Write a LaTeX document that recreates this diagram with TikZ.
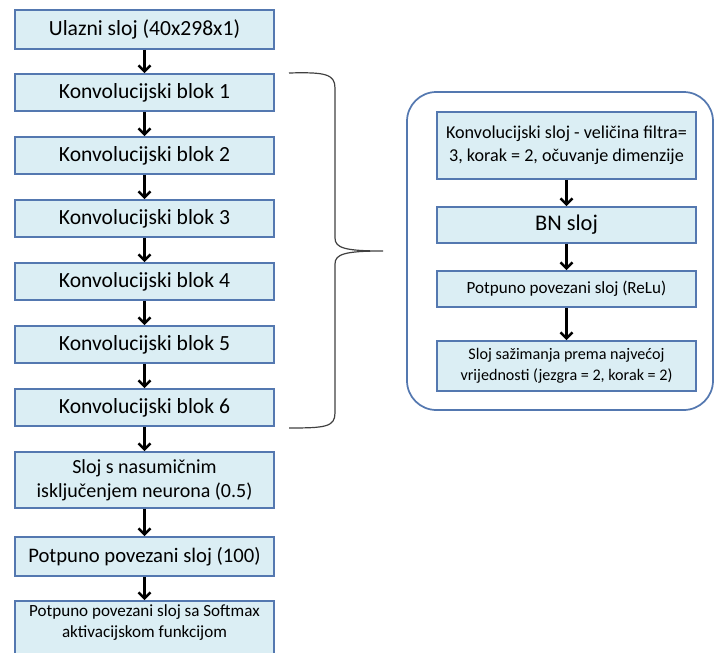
\documentclass[tikz,border=0pt]{standalone}
\usepackage{fontspec}
\setmainfont{Carlito}
\usetikzlibrary{arrows.meta}
\definecolor{boxfill}{RGB}{219,238,244}
\definecolor{boxline}{RGB}{84,120,176}
\begin{document}
\begin{tikzpicture}[x=0.75pt,y=-0.75pt,
  blk/.style={draw=boxline,fill=boxfill,line width=1.3pt,minimum width=194.25pt,inner sep=0pt,align=center},
  arr/.style={draw=black,line width=1.9pt,-{Straight Barb[length=4.5pt,width=9pt,line width=1.9pt]}},
  brace/.style={draw=black!75,line width=0.9pt}]
\useasboundingbox (0,0) rectangle (715,653);
\begin{scope}
\clip (0,0) rectangle (715,653);
% left column
\node[blk,minimum height=29.25pt,font=\fontsize{16.2}{19}\selectfont] (in) at (144.5,29.5) {Ulazni sloj (40x298x1)};
\node[blk,minimum height=27.75pt,font=\fontsize{16.2}{19}\selectfont] (k1) at (144.5,92.5) {Konvolucijski blok 1};
\node[blk,minimum height=27.75pt,font=\fontsize{16.2}{19}\selectfont] (k2) at (144.5,155.5) {Konvolucijski blok 2};
\node[blk,minimum height=27.75pt,font=\fontsize{16.2}{19}\selectfont] (k3) at (144.5,218.5) {Konvolucijski blok 3};
\node[blk,minimum height=27.75pt,font=\fontsize{16.2}{19}\selectfont] (k4) at (144.5,281.5) {Konvolucijski blok 4};
\node[blk,minimum height=27.75pt,font=\fontsize{16.2}{19}\selectfont] (k5) at (144.5,344.5) {Konvolucijski blok 5};
\node[blk,minimum height=27.75pt,font=\fontsize{16.2}{19}\selectfont] (k6) at (144.5,407.5) {Konvolucijski blok 6};
\node[blk,minimum height=42pt,font=\fontsize{15}{18}\selectfont] (dr) at (144.5,480) {Sloj s nasumičnim\\ isključenjem neurona (0.5)};
\node[blk,minimum height=29.25pt,font=\fontsize{15.5}{18}\selectfont] (fc) at (144.5,556.5) {Potpuno povezani sloj (100)};
\node[blk,minimum height=59.25pt] (sm) at (144.5,640.5) {};
\node[anchor=north,align=center,inner sep=0pt,font=\fontsize{12.8}{16}\selectfont] (smt) at (144.5,604) {Potpuno povezani sloj sa Softmax\\ aktivacijskom funkcijom};
\draw[arr] (in) -- (k1);
\draw[arr] (k1) -- (k2);
\draw[arr] (k2) -- (k3);
\draw[arr] (k3) -- (k4);
\draw[arr] (k4) -- (k5);
\draw[arr] (k5) -- (k6);
\draw[arr] (k6) -- (dr);
\draw[arr] (dr) -- (fc);
\draw[arr] (fc) -- (sm);
% brace
\coordinate (bt) at (289,73);
\coordinate (bb) at (289,428);
\coordinate (tip) at (383,251);
\draw[brace] (bt) .. controls (325,72) and (335,74) .. (335,88) -- (335,238)
  .. controls (335,248) and (345,251) .. (tip)
  .. controls (345,251) and (335,254) .. (335,264) -- (335,413)
  .. controls (335,427) and (325,428) .. (bb);
% right block
\node[draw=boxline,line width=1.3pt,rounded corners=22pt,minimum width=229.5pt,minimum height=238.5pt,inner sep=0pt] (grp) at (560,251) {};
\node[blk,minimum height=50.25pt,font=\fontsize{13.6}{17}\selectfont] (ca) at (566.5,145.5) {Konvolucijski sloj - veličina filtra=\\ 3, korak = 2, očuvanje dimenzije};
\node[blk,minimum height=27pt,font=\fontsize{16.8}{19}\selectfont] (cb) at (566.5,225) {BN sloj};
\node[blk,minimum height=27pt,font=\fontsize{12.8}{16}\selectfont] (cc) at (566.5,289) {Potpuno povezani sloj (ReLu)};
\node[blk,minimum height=37.5pt,font=\fontsize{12.1}{16}\selectfont] (cd) at (566.5,366) {Sloj sažimanja prema najvećoj\\ vrijednosti (jezgra = 2, korak = 2)};
\draw[arr] (ca) -- (cb);
\draw[arr] (cb) -- (cc);
\draw[arr] (cc) -- (cd);
\end{scope}
\end{tikzpicture}
\end{document}
